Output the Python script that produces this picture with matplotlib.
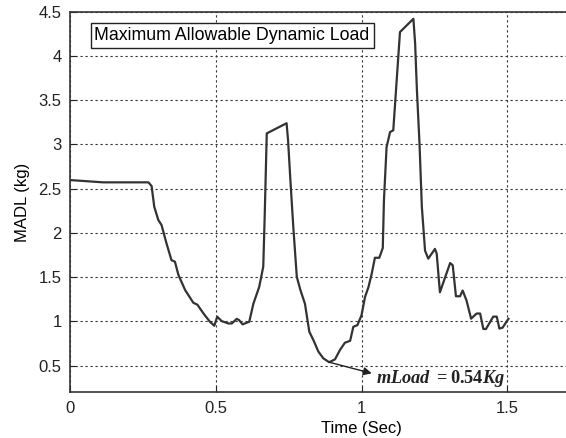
import matplotlib
matplotlib.use("Agg")
import matplotlib.pyplot as plt

plt.rcParams['font.family'] = ['Liberation Sans', 'DejaVu Sans']
plt.rcParams['mathtext.fontset'] = 'custom'
plt.rcParams['mathtext.it'] = 'Liberation Serif:italic:bold'
plt.rcParams['mathtext.rm'] = 'Liberation Serif:bold'
plt.rcParams['mathtext.bf'] = 'Liberation Serif:bold'

time_s = [0.0, 0.114, 0.269, 0.280, 0.289, 0.303, 0.314, 0.331, 0.348, 0.360,
          0.372, 0.395, 0.423, 0.437, 0.458, 0.480, 0.495, 0.505, 0.520, 0.543,
          0.555, 0.572, 0.580, 0.592, 0.615, 0.629, 0.649, 0.663, 0.668, 0.675,
          0.743, 0.748, 0.756, 0.766, 0.778, 0.790, 0.806, 0.821, 0.835, 0.852,
          0.869, 0.889, 0.909, 0.926, 0.943, 0.961, 0.972, 0.986, 1.000, 1.012,
          1.024, 1.035, 1.046, 1.061, 1.073, 1.077, 1.086, 1.098, 1.109, 1.132,
          1.178, 1.184, 1.190, 1.199, 1.207, 1.218, 1.229, 1.252, 1.258, 1.269,
          1.287, 1.304, 1.313, 1.324, 1.338, 1.347, 1.360, 1.376, 1.395, 1.407,
          1.418, 1.427, 1.452, 1.464, 1.473, 1.484, 1.504]
madl = [2.598, 2.572, 2.572, 2.530, 2.297, 2.146, 2.090, 1.883, 1.694, 1.675,
        1.525, 1.355, 1.212, 1.190, 1.090, 0.997, 0.952, 1.054, 1.005, 0.978,
        0.978, 1.030, 1.016, 0.968, 0.997, 1.200, 1.390, 1.620, 2.200, 3.125,
        3.240, 3.050, 2.600, 2.070, 1.506, 1.360, 1.200, 0.884, 0.790, 0.660,
        0.584, 0.540, 0.572, 0.677, 0.760, 0.782, 0.940, 0.959, 1.070, 1.276,
        1.390, 1.540, 1.720, 1.720, 1.830, 2.370, 2.970, 3.140, 3.160, 4.270,
        4.420, 4.140, 3.620, 3.010, 2.297, 1.800, 1.710, 1.820, 1.767, 1.330,
        1.500, 1.660, 1.635, 1.285, 1.285, 1.350, 1.240, 1.032, 1.090, 1.090,
        0.915, 0.915, 1.055, 1.055, 0.920, 0.930, 1.030]

x_ticks = [0, 0.5, 1, 1.5]
x_tick_labels = ['0', '0.5', '1', '1.5']
y_ticks = [0.5, 1, 1.5, 2, 2.5, 3, 3.5, 4, 4.5]
y_tick_labels = ['0.5', '1', '1.5', '2', '2.5', '3', '3.5', '4', '4.5']
min_point = (0.889, 0.54)
legend_text = "Maximum Allowable Dynamic Load"
annot_text = r'$mLoad\ =0.54Kg$'

fig = plt.figure(figsize=(5.66, 4.38), dpi=100)
ax = fig.add_axes([70/566, 1-392.3/438, 583/566, (392.3-11.7)/438])

ax.plot(time_s, madl, color='#333333', lw=1.6)
ax.set_xlim(0, 2)
ax.set_ylim(0.2, 4.5)
ax.set_xticks(x_ticks)
ax.set_xticklabels(x_tick_labels)
ax.set_yticks(y_ticks)
ax.set_yticklabels(y_tick_labels)
ax.tick_params(direction='in', length=4, labelsize=12, colors='#222222', pad=6)
ax.grid(True, color='#333333', linestyle=(0, (2, 2.5)), linewidth=0.8)
for s in ax.spines.values():
    s.set_color('#333333')
    s.set_linewidth(1.2)

ax.set_xlabel('Time (Sec)', fontsize=12, labelpad=4)
ax.set_ylabel('MADL (kg)', fontsize=12, labelpad=6)

ax.text(0.278, 0.938, legend_text, transform=ax.transAxes, ha='center', va='center',
        fontsize=12.8, bbox=dict(boxstyle='square,pad=0.22', facecolor='white',
                                 edgecolor='#222222', linewidth=1.0))

ax.annotate('', xy=(1.035, 0.414), xytext=min_point,
            arrowprops=dict(arrowstyle='-|>', color='#222222', lw=1.0,
                            mutation_scale=12, shrinkA=0, shrinkB=0))
ax.text(1.05, 0.308, annot_text, fontsize=13.2, color='#222222', va='baseline', ha='left')

fig.savefig('out.png', dpi=100)
